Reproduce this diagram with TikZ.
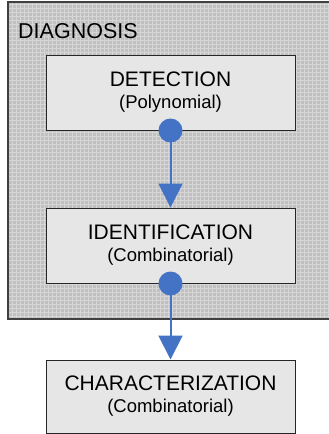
\documentclass[tikz,border=0pt]{standalone}
\usepackage{fontspec}
\setmainfont{Liberation Sans}
\usetikzlibrary{positioning,arrows.meta}

\definecolor{flowblue}{RGB}{68,114,196}
\definecolor{panelgray}{RGB}{192,192,192}
\definecolor{panelgrid}{RGB}{214,214,214}
\definecolor{stagegray}{RGB}{230,230,230}

\begin{document}
\begin{tikzpicture}[x=1pt,y=-1pt,
    stage/.style={draw=black!85, line width=1pt, fill=stagegray,
      minimum width=249pt, minimum height=75pt, inner sep=0pt,
      align=center, font=\fontsize{21}{23}\selectfont},
    flow/.style={draw=flowblue, line width=2pt,
      -{Triangle[length=24pt,width=24pt]}},
    dot/.style={fill=flowblue}]
  \useasboundingbox (0,0) rectangle (329,434);

  % panel
  \fill[panelgray] (8,2) rectangle (340,319);
  \begin{scope}
    \clip (8,2) rectangle (340,319);
    \draw[panelgrid, line width=0.6pt, step=4pt] (8,2) grid (340,319);
  \end{scope}
  \draw[black!75, line width=1.2pt] (340,2) -- (8,2) -- (8,319) -- (340,319);
  \node[anchor=base west, inner sep=0pt, font=\fontsize{21.5}{23}\selectfont]
    (diag) at (18,38) {DIAGNOSIS};

  % stages
  \node[stage] (detect) at (170.5,92.5)
    {DETECTION\\[-1pt]{\fontsize{18.5}{20}\selectfont (Polynomial)}};
  \node[stage, below=77pt of detect] (ident)
    {IDENTIFICATION\\[-1pt]{\fontsize{18.5}{20}\selectfont (Combinatorial)}};
  \node[stage, minimum height=73pt, below=76pt of ident] (charact)
    {CHARACTERIZATION\\[-1pt]{\fontsize{18.5}{20}\selectfont (Combinatorial)}};

  % connectors
  \draw[flow] (detect.south) -- (ident.north);
  \draw[flow] (ident.south) -- (charact.north);
  \fill[dot] (detect.south) circle (12pt);
  \fill[dot] (ident.south) circle (12pt);
\end{tikzpicture}
\end{document}
